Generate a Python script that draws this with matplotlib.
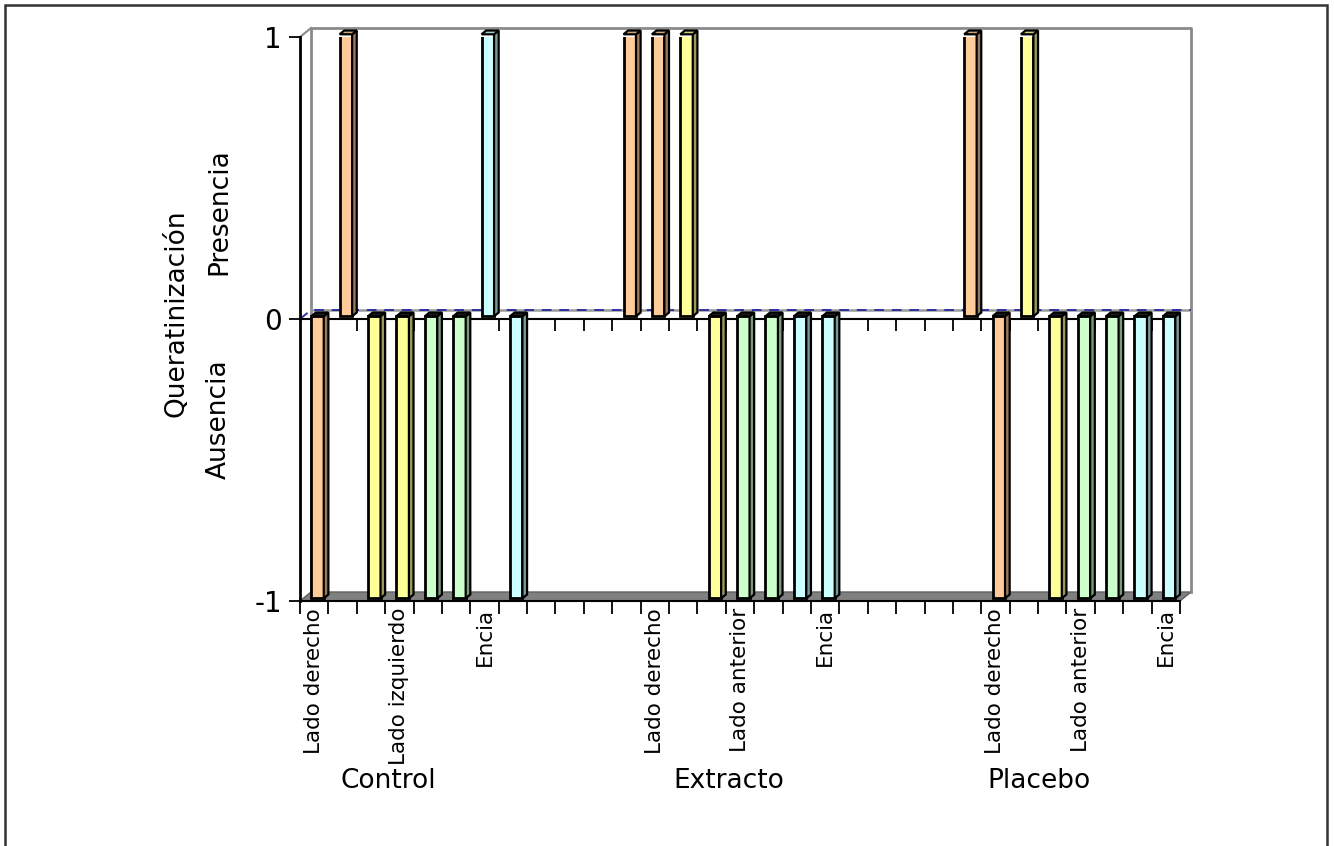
import numpy as np
import matplotlib
matplotlib.use("Agg")
import matplotlib.pyplot as plt
from matplotlib.patches import Polygon, Rectangle
from matplotlib.colors import to_rgb

# datos: 1 = presencia, -1 = ausencia
grupos = ["Control", "Extracto", "Placebo"]
sitios = ["Lado derecho", "Lado derecho", "Lado izquierdo", "Lado izquierdo",
          "Lado anterior", "Lado anterior", "Encia", "Encia"]
control = [-1, 1, -1, -1, -1, -1, 1, -1]
extracto = [1, 1, 1, -1, -1, -1, -1, -1]
placebo = [1, -1, 1, -1, -1, -1, -1, -1]
huecos = [3, 4]   # filas vacias entre grupos en la hoja
colores_sitio = {"Lado derecho": "#FFCC99", "Lado izquierdo": "#FFFF99",
                 "Lado anterior": "#CCFFCC", "Encia": "#CCFFFF"}
pos_grupo = [3.1, 15.1, 26.05]

# armar las categorias del eje x
valores, etiquetas, colores = [], [], []
for k, serie in enumerate([control, extracto, placebo]):
    valores += serie
    etiquetas += sitios
    colores += [colores_sitio[s] for s in sitios]
    if k < len(huecos):
        valores += [np.nan] * huecos[k]
        etiquetas += [""] * huecos[k]
        colores += ["none"] * huecos[k]
valores = np.array(valores, dtype=float)
n = len(valores)
x = np.arange(n) + 0.5

W, H = 1334, 846
fig = plt.figure(figsize=(W / 100, H / 100), dpi=100)
ax = fig.add_axes([300 / W, (H - 601) / H, 880 / W, 564 / H])
ax.set_xlim(0, n)
ax.set_ylim(-1, 1)
ax.patch.set_visible(False)

# profundidad (efecto 3D)
dx = 11 / (880 / n)
dy = 9 / 282
f0, f1 = 0.3, 0.72
bw = 0.44

# piso, paredes y linea del cero
ax.add_patch(Polygon([(0, -1), (n, -1), (n + dx, -1 + dy), (dx, -1 + dy)],
                     closed=True, fc="#808080", ec="#606060", lw=1, clip_on=False, zorder=1))
ax.plot([dx, dx, n + dx, n + dx], [-1 + dy, 1 + dy, 1 + dy, -1 + dy],
        color="#8a8a8a", lw=2, clip_on=False, zorder=1)
ax.plot([0, dx], [1, 1 + dy], color="#8a8a8a", lw=1.5, clip_on=False, zorder=1)
ax.plot([dx, n + dx], [dy, dy], color="#9a9a9a", lw=1.8, clip_on=False, zorder=1)
ax.plot([0, dx, n + dx], [0, dy, dy], color="#3030a0", lw=1.4,
        ls=(0, (5, 4)), clip_on=False, zorder=1.5)
ax.axhline(0, color="black", lw=1.5, zorder=2)
ax.vlines(np.arange(n + 1), -0.043, 0, color="black", lw=1.3, zorder=2)

# barras: cara frontal
ok = ~np.isnan(valores)
ax.bar(x[ok] + f0 * dx, valores[ok], bottom=f0 * dy, width=bw,
       color=[c for c, o in zip(colores, ok) if o], edgecolor="black",
       linewidth=2, zorder=3)

# caras lateral y superior
for xi, v, c in zip(x[ok], valores[ok], [c for c, o in zip(colores, ok) if o]):
    rgb = np.array(to_rgb(c))
    x0 = xi + f0 * dx - bw / 2
    x1 = x0 + bw
    ddx = (f1 - f0) * dx
    y0, y1 = f0 * dy, f1 * dy
    lado = [(x1, y0), (x1 + ddx, y1), (x1 + ddx, v + y1), (x1, v + y0)]
    ax.add_patch(Polygon(lado, closed=True, fc=rgb * 0.6, ec="black", lw=1.6,
                         clip_on=False, zorder=3.1))
    yt = max(v, 0)
    tapa = [(x0, yt + y0), (x1, yt + y0), (x1 + ddx, yt + y1), (x0 + ddx, yt + y1)]
    fc_t = rgb * 0.8 if v > 0 else "#1a1a1a"
    ax.add_patch(Polygon(tapa, closed=True, fc=fc_t, ec="black", lw=1.6,
                         clip_on=False, zorder=3.1))

# ejes
for s in ["top", "right"]:
    ax.spines[s].set_visible(False)
ax.spines["left"].set_linewidth(2)
ax.spines["bottom"].set_linewidth(1.5)
ax.set_yticks([-1, 0, 1])
ax.set_yticklabels(["-1", "0", "1"], fontsize=20)
ax.tick_params(axis="y", direction="out", length=8, width=1.3, pad=5)
ax.set_xticks(np.arange(n + 1))
ax.set_xticklabels([])
ax.tick_params(axis="x", which="major", direction="out", length=9, width=1.3)
idx = np.arange(0, n, 3)
ax.set_xticks(x[idx], minor=True)
ax.set_xticklabels([etiquetas[i] for i in idx], minor=True, rotation=90,
                   fontsize=15.5, va="top")
ax.tick_params(axis="x", which="minor", length=0, pad=5)

for g, p in zip(grupos, pos_grupo):
    ax.text(p, -1.64, g, fontsize=19, ha="center", va="center", clip_on=False)

fig.text(177 / W, 1 - 313 / H, "Queratinización", rotation=90, fontsize=19,
         ha="center", va="center")
fig.text(219 / W, 1 - 212 / H, "Presencia", rotation=90, fontsize=19,
         ha="center", va="center")
fig.text(219 / W, 1 - 419 / H, "Ausencia", rotation=90, fontsize=19,
         ha="center", va="center")

# marco del grafico
fig.patches.append(Rectangle((5 / W, -0.01), 1322 / W, 1 - 5 / H + 0.01,
                             transform=fig.transFigure, fill=False,
                             ec="#333333", lw=1.8))

fig.savefig("out.png", dpi=100)
